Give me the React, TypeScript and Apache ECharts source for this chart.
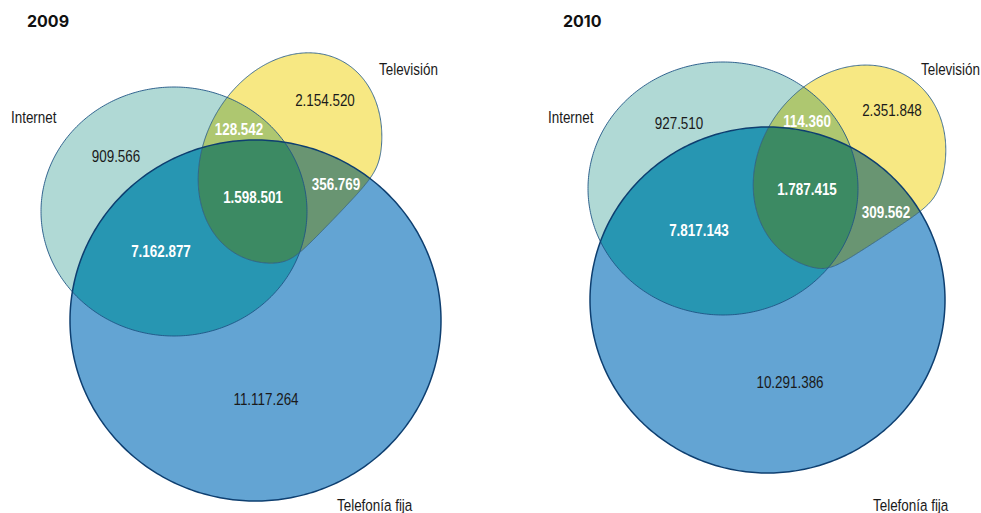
import React, { useEffect, useRef } from "react";
import * as echarts from "echarts";

// ---------- data ----------
const years = ["2009", "2010"];
const setNames = ["Internet", "Televisión", "Telefonía fija"];
// region order: Internet only, TV only, Phone only, I∩T, I∩P, T∩P, I∩T∩P
const regionKeys = ["I", "T", "P", "IT", "IP", "TP", "ITP"];
const values2009 = [909566, 2154520, 11117264, 128542, 7162877, 356769, 1598501];
const values2010 = [927510, 2351848, 10291386, 114360, 7817143, 309562, 1787415];
const valuesByYear = [values2009, values2010];

// ---------- styles ----------
const regionColors: Record<string, string> = {
  I: "#B0D9D5",
  T: "#F7E883",
  P: "#63A4D3",
  IT: "#AEC770",
  IP: "#2796B2",
  TP: "#699572",
  ITP: "#3C8A63",
};
const whiteLabel: Record<string, boolean> = { IT: true, IP: true, TP: true, ITP: true };
const FONT = "'Liberation Sans', Arimo, Arial, sans-serif";
const FONT_SIZE = 17;
const NARROW_SCALE = 0.79;

// ---------- layout (pixel space of the 981x513 canvas) ----------
const W = 981;
const H = 513;
type Pt = [number, number];
const layout = [
  {
    title: [27, 13],
    I: { cx: 174, cy: 211.5, rx: 133, ry: 124.5 },
    P: { cx: 255.5, cy: 320.5, rx: 185.5, ry: 180.5 },
    T: { cx: 290, cy: 158, a: 110, b: 86, rot: -62, cutAng: 44, cutOff: 74 },
    regionPos: {
      I: [116, 156], T: [325, 100], P: [266, 399], IT: [239, 129],
      IP: [161, 251], TP: [336, 184], ITP: [253, 197],
    } as Record<string, Pt>,
    setPos: [[11, 117], [379, 69], [337, 505]] as Pt[],
  },
  {
    title: [563, 13],
    I: { cx: 723, cy: 188.5, rx: 135, ry: 126.5 },
    P: { cx: 767.5, cy: 300, rx: 177.5, ry: 173 },
    T: { cx: 849.5, cy: 167.5, a: 108, b: 90, rot: -55, cutAng: 57, cutOff: 76.5 },
    regionPos: {
      I: [679, 123], T: [892, 110], P: [790, 382], IT: [807, 121],
      IP: [699, 230], TP: [886, 212], ITP: [807, 189],
    } as Record<string, Pt>,
    setPos: [[548, 117], [921, 69], [873, 505]] as Pt[],
  },
];

// ---------- geometry helpers ----------
function ellipse(cx: number, cy: number, a: number, b: number, n = 360): Pt[] {
  const pts: Pt[] = [];
  for (let i = 0; i < n; i++) {
    const t = (i / n) * Math.PI * 2;
    pts.push([cx + a * Math.cos(t), cy + b * Math.sin(t)]);
  }
  return pts;
}
// rotated ellipse, softly flattened on one side by a straight cut
function tvShape(t: (typeof layout)[number]["T"], n = 540): Pt[] {
  const rot = (t.rot * Math.PI) / 180;
  const ca = (t.cutAng * Math.PI) / 180;
  const k = 5;
  const pts: Pt[] = [];
  for (let i = 0; i < n; i++) {
    const phi = (i / n) * Math.PI * 2;
    const c = Math.cos(phi - rot), s = Math.sin(phi - rot);
    const re = 1 / Math.sqrt((c * c) / (t.a * t.a) + (s * s) / (t.b * t.b));
    const cc = Math.cos(phi - ca);
    const rl = cc > 1e-6 ? t.cutOff / cc : 1e6;
    const m = Math.min(re, rl);
    const rr = m - k * Math.log(Math.exp(-(re - m) / k) + Math.exp(-(rl - m) / k));
    pts.push([t.cx + rr * Math.cos(phi), t.cy + rr * Math.sin(phi)]);
  }
  return pts;
}
function clipBy(poly: Pt[], side: (p: Pt) => number): Pt[] {
  const res: Pt[] = [];
  const n = poly.length;
  for (let i = 0; i < n; i++) {
    const cur = poly[i];
    const prev = poly[(i + n - 1) % n];
    const sc = side(cur), sp = side(prev);
    const cross = (): Pt => {
      const tt = sp / (sp - sc);
      return [prev[0] + tt * (cur[0] - prev[0]), prev[1] + tt * (cur[1] - prev[1])];
    };
    if (sc >= 0) {
      if (sp < 0) res.push(cross());
      res.push(cur);
    } else if (sp >= 0) {
      res.push(cross());
    }
  }
  return res;
}
function signedArea(p: Pt[]) {
  let s = 0;
  for (let i = 0; i < p.length; i++) {
    const a = p[i], b = p[(i + 1) % p.length];
    s += a[0] * b[1] - b[0] * a[1];
  }
  return s / 2;
}
// clip must be convex
function intersectConvex(subject: Pt[], clip: Pt[]): Pt[] {
  const sg = Math.sign(signedArea(clip));
  let out = subject;
  for (let i = 0; i < clip.length && out.length; i++) {
    const a = clip[i], b = clip[(i + 1) % clip.length];
    out = clipBy(out, (p) => sg * ((b[0] - a[0]) * (p[1] - a[1]) - (b[1] - a[1]) * (p[0] - a[0])));
  }
  return out;
}
function buildPanel(L: (typeof layout)[number]) {
  const I = ellipse(L.I.cx, L.I.cy, L.I.rx, L.I.ry);
  const P = ellipse(L.P.cx, L.P.cy, L.P.rx, L.P.ry);
  const T = tvShape(L.T);
  const IP = intersectConvex(I, P);
  const IT = intersectConvex(T, I);
  const TP = intersectConvex(T, P);
  const ITP = intersectConvex(IT, P);
  return {
    fills: [
      ["I", I], ["P", P], ["T", T], ["IP", IP], ["IT", IT], ["TP", TP], ["ITP", ITP],
    ] as [string, Pt[]][],
    outlines: [
      [I, "#1F5585", 0.9],
      [T, "#2A5F8C", 0.9],
      [P, "#0E3F70", 1.5],
    ] as [Pt[], string, number][],
  };
}

function fmt(v: number) {
  return String(v).replace(/\B(?=(\d{3})+(?!\d))/g, ".");
}

export default function App() {
  const ref = useRef<HTMLDivElement>(null);
  useEffect(() => {
    document.body.style.margin = "0";
    document.body.style.overflow = "hidden";
    if (!ref.current) return;
    const chart = echarts.init(ref.current, undefined, { renderer: "svg" });
    const panels = layout.map(buildPanel);

    // label items: [x, y, kind(0 region / 1 set), panel, index]
    const labelData: number[][] = [];
    years.forEach((_, pi) => {
      regionKeys.forEach((k, ri) => {
        const pos = layout[pi].regionPos[k];
        labelData.push([pos[0], pos[1], 0, pi, ri]);
      });
      setNames.forEach((_, si) => {
        const pos = layout[pi].setPos[si];
        labelData.push([pos[0], pos[1], 1, pi, si]);
      });
    });

    chart.setOption({
      animation: false,
      title: years.map((y, pi) => ({
        text: y,
        left: layout[pi].title[0],
        top: layout[pi].title[1],
        padding: 0,
        textStyle: { fontFamily: "Inter, sans-serif", fontWeight: 700, fontSize: 16, color: "#111111" },
      })),
      grid: { left: 0, right: 0, top: 0, bottom: 0 },
      xAxis: { type: "value", min: 0, max: W, show: false },
      yAxis: { type: "value", min: 0, max: H, inverse: true, show: false },
      series: [
        {
          type: "custom",
          coordinateSystem: "cartesian2d",
          clip: false,
          silent: true,
          data: years.map((_, i) => [i, 0]),
          renderItem: (params: any, api: any) => {
            const pi = api.value(0);
            const pan = panels[pi];
            const toPx = (pts: Pt[]) => pts.map((p) => api.coord(p));
            const children: any[] = [];
            pan.fills.forEach(([k, pts]) => {
              if (pts.length < 3) return;
              children.push({
                type: "polygon",
                shape: { points: toPx(pts) },
                style: { fill: regionColors[k], stroke: "none" },
              });
            });
            pan.outlines.forEach(([pts, col, w]) => {
              children.push({
                type: "polygon",
                shape: { points: toPx(pts) },
                style: { fill: "none", stroke: col, lineWidth: w },
              });
            });
            return { type: "group", children };
          },
        },
        {
          type: "custom",
          coordinateSystem: "cartesian2d",
          clip: false,
          silent: true,
          data: labelData,
          renderItem: (params: any, api: any) => {
            const x = api.value(0), y = api.value(1);
            const kind = api.value(2), pi = api.value(3), idx = api.value(4);
            const [px, py] = api.coord([x, y]);
            let text: string, fill: string, weight: string, align: string;
            if (kind === 0) {
              const key = regionKeys[idx];
              const white = !!whiteLabel[key];
              text = fmt(valuesByYear[pi][idx]);
              fill = white ? "#FFFFFF" : "#1A1A1A";
              weight = white ? "bold" : "normal";
              align = "center";
            } else {
              text = setNames[idx];
              fill = "#1A1A1A";
              weight = "normal";
              align = "left";
            }
            return {
              type: "text",
              x: px,
              y: py,
              scaleX: NARROW_SCALE,
              style: {
                text,
                fill,
                fontFamily: FONT,
                fontSize: FONT_SIZE,
                fontWeight: weight,
                align,
                verticalAlign: "middle",
              },
            };
          },
        },
      ],
    });
    return () => chart.dispose();
  }, []);
  return <div ref={ref} style={{ width: W, height: H }} />;
}
